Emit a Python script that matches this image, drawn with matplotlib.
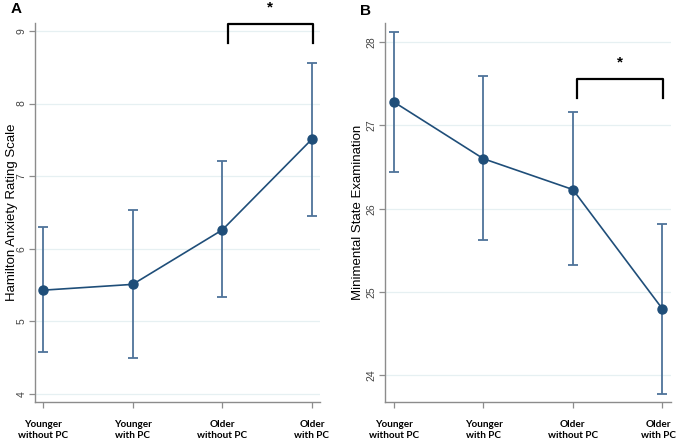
import numpy as np
from matplotlib import pyplot as plt
from matplotlib import transforms

plt.rcParams["font.family"] = ["Liberation Sans", "DejaVu Sans"]

# group labels on the x axis
groups = ["Younger\nwithout PC", "Younger\nwith PC", "Older\nwithout PC", "Older\nwith PC"]

# panel A: Hamilton anxiety (mean, lower CI, upper CI)
ham_mean = [5.43, 5.51, 6.26, 7.51]
ham_lo = [4.58, 4.50, 5.33, 6.45]
ham_hi = [6.30, 6.54, 7.21, 8.56]

# panel B: MMSE
mms_mean = [27.28, 26.60, 26.23, 24.80]
mms_lo = [26.44, 25.62, 25.32, 23.78]
mms_hi = [28.12, 27.59, 27.16, 25.82]

line_col = "#1f4e79"
err_col = "#4e739a"
grid_col = "#e6f0f2"
spine_col = "#8c8c8c"

W, H = 678, 441
fig = plt.figure(figsize=(W / 100, H / 100), dpi=100)
axA = fig.add_axes([0.0516, 0.0884, 0.4204, 0.8596])
axB = fig.add_axes([0.568, 0.0884, 0.422, 0.8596])


def draw_panel(ax, mean, lo, hi, yticks, ylim, xlim):
    x = np.arange(len(groups))
    mean = np.array(mean)
    yerr = [mean - np.array(lo), np.array(hi) - mean]
    ax.errorbar(x, mean, yerr=yerr, fmt="none", ecolor=err_col, elinewidth=1.3,
                capsize=3.5, capthick=1.3, zorder=2)
    ax.plot(x, mean, color=line_col, lw=1.2, marker="o", ms=6.5, zorder=3)
    ax.set_xlim(*xlim)
    ax.set_ylim(*ylim)
    ax.set_yticks(yticks)
    ax.set_yticklabels([str(t) for t in yticks], rotation=90, va="center",
                       fontsize=7.5)
    ax.set_xticks(x)
    ax.set_xticklabels(groups, fontsize=7.2, fontweight="bold", family="Lato",
                       linespacing=1.25)
    for t in yticks:
        ax.axhline(t, color=grid_col, lw=0.9, zorder=0)
    for s in ["top", "right"]:
        ax.spines[s].set_visible(False)
    for s in ["left", "bottom"]:
        ax.spines[s].set_color(spine_col)
        ax.spines[s].set_linewidth(1.0)
    ax.tick_params(axis="both", colors=spine_col, length=4, width=0.9)
    ax.tick_params(axis="x", pad=9, labelcolor="black")
    ax.tick_params(axis="y", pad=2, labelcolor="#444444")


draw_panel(axA, ham_mean, ham_lo, ham_hi, [4, 5, 6, 7, 8, 9], (3.89, 9.11),
           (-0.09, 3.09))
draw_panel(axB, mms_mean, mms_lo, mms_hi, [24, 25, 26, 27, 28], (23.68, 28.23),
           (-0.10, 3.10))

# nudge the last label of panel B a bit left so it stays inside the figure
last = axB.get_xticklabels()[-1]
last.set_transform(last.get_transform() +
                   transforms.ScaledTranslation(-4 / 100, 0, fig.dpi_scale_trans))

# y axis titles
fig.text(12 / W, 1 - 212 / H, "Hamilton Anxiety Rating Scale", rotation=90,
         ha="center", va="center", fontsize=9.5)
fig.text(358 / W, 1 - 212 / H, "Minimental State Examination", rotation=90,
         ha="center", va="center", fontsize=9.5)


def bracket(ax, x0, x1, ytop, ybot, ystar):
    ax.plot([x0, x0, x1, x1], [ybot, ytop, ytop, ybot], color="black", lw=1.6,
            clip_on=False, solid_joinstyle="round")
    ax.text((x0 + x1) / 2, ystar, "*", ha="center", va="center", fontsize=11,
            fontweight="bold", clip_on=False)


bracket(axA, 2.06, 3.01, 9.10, 8.83, 9.32)
bracket(axB, 2.05, 3.01, 27.56, 27.33, 27.76)

fig.text(11 / W, 1 - 2 / H, "A", fontsize=11, fontweight="bold", va="top")
fig.text(360 / W, 1 - 4 / H, "B", fontsize=11, fontweight="bold", va="top")

fig.savefig("out.png", dpi=100)
